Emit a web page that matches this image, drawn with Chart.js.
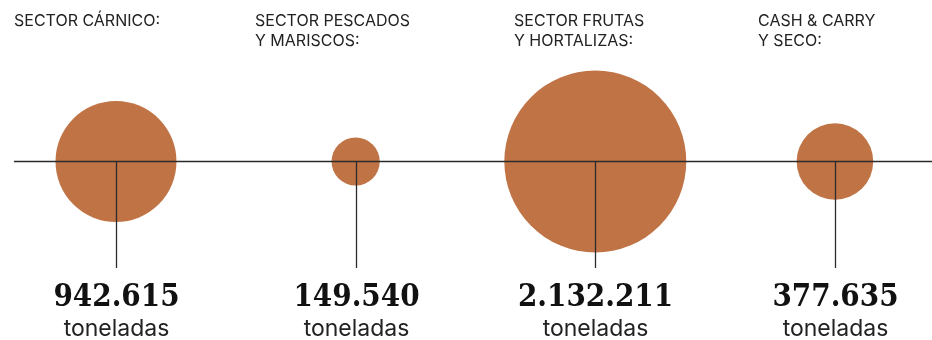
<!DOCTYPE html>
<html>
<head>
<meta charset="utf-8">
<script src="https://cdn.jsdelivr.net/npm/chart.js@4.4.1/dist/chart.umd.min.js"></script>
<style>
  html, body { margin: 0; padding: 0; background: #fff; }
  #wrap { width: 932px; height: 340px; position: relative; }
</style>
</head>
<body>
<div id="wrap"><canvas id="sectorChart"></canvas></div>
<script>
// tonnes per sector
const sectors = [['SECTOR CÁRNICO:'], ['SECTOR PESCADOS', 'Y MARISCOS:'], ['SECTOR FRUTAS', 'Y HORTALIZAS:'], ['CASH & CARRY', 'Y SECO:']];
const tonnes = [942615, 149540, 2132211, 377635];
const valueLabels = ['942.615', '149.540', '2.132.211', '377.635'];
const unitLabel = 'toneladas';

const bubbleColor = '#c07446';
const lineColor = '#2b2b2b';
const radiusScale = 0.0623; // px per sqrt(tonne), keeps area proportional

const overlay = {
    id: 'overlay',
    afterDatasetsDraw(chart) {
        const ctx = chart.ctx;
        const x = chart.scales.x, y = chart.scales.y;
        const y0 = y.getPixelForValue(0);
        ctx.save();
        ctx.strokeStyle = lineColor;
        ctx.lineWidth = 1.3;
        ctx.beginPath();
        ctx.moveTo(14, y0);
        ctx.lineTo(chart.width, y0);
        ctx.stroke();

        tonnes.forEach((v, i) => {
            const cx = Math.round(x.getPixelForValue(i)) + 0.5;
            ctx.beginPath();
            ctx.moveTo(cx, y0);
            ctx.lineTo(cx, 268);
            ctx.stroke();

            // sector title, left aligned above the bubble
            ctx.fillStyle = '#222';
            ctx.font = '16px Inter, Roboto, sans-serif';
            ctx.textAlign = 'left';
            ctx.textBaseline = 'alphabetic';
            sectors[i].forEach((line, j) => {
                ctx.fillText(line, [14, 255, 514, 758][i], 26 + j * 20);
            });

            ctx.textAlign = 'center';
            ctx.fillStyle = '#111';
            ctx.font = 'bold 31px "DejaVu Serif Condensed", "DejaVu Serif", serif';
            ctx.fillText(valueLabels[i], cx, 306);
            ctx.fillStyle = '#222';
            ctx.font = '23px Inter, Roboto, sans-serif';
            ctx.fillText(unitLabel, cx, 336);
        });
        ctx.restore();
    }
};

new Chart(document.getElementById('sectorChart'), {
    type: 'bubble',
    data: {
        datasets: [{
            data: tonnes.map((v, i) => ({ x: i, y: 0, r: radiusScale * Math.sqrt(v) })),
            backgroundColor: bubbleColor,
            borderWidth: 0,
            hoverBackgroundColor: bubbleColor,
            clip: false
        }]
    },
    options: {
        responsive: true,
        maintainAspectRatio: false,
        animation: false,
        layout: { padding: 0, autoPadding: false },
        scales: {
            x: { type: 'linear', min: -0.484, max: 3.405, display: false },
            y: { type: 'linear', min: -1.05, max: 0.95, display: false }
        },
        plugins: { legend: { display: false }, tooltip: { enabled: false } }
    },
    plugins: [overlay]
});
</script>
</body>
</html>
